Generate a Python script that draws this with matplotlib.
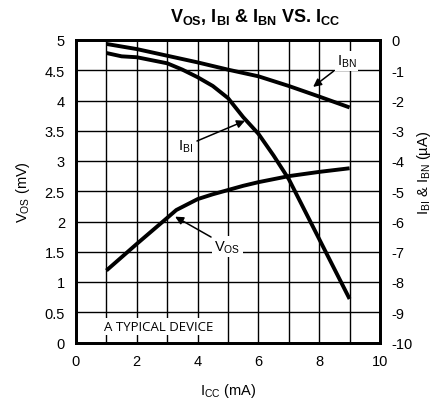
import matplotlib
matplotlib.use("Agg")
import matplotlib.pyplot as plt

plt.rcParams['font.family'] = ['Liberation Sans', 'DejaVu Sans']
plt.rcParams['mathtext.default'] = 'regular'

icc = [1, 2, 3, 3.3, 4, 4.5, 5, 5.5, 6, 6.5, 7, 8, 9]
vos = [1.19, 1.63, 2.06, 2.19, 2.37, 2.45, 2.52, 2.59, 2.65, 2.70, 2.75, 2.82, 2.88]
icc_bi = [1, 1.5, 2, 3, 3.5, 4, 4.5, 5, 5.5, 6, 6.5, 7, 8, 9]
ibi = [-0.43, -0.54, -0.57, -0.77, -0.98, -1.23, -1.52, -1.92, -2.55, -3.10, -3.82, -4.60, -6.58, -8.56]
icc_bn = [1, 2, 3, 4, 5, 6, 7, 8, 9]
ibn = [-0.13, -0.30, -0.52, -0.74, -0.98, -1.20, -1.52, -1.87, -2.23]

xticks = [0, 2, 4, 6, 8, 10]
yticks_left = [0, 0.5, 1, 1.5, 2, 2.5, 3, 3.5, 4, 4.5, 5]
yticks_right = [0, -1, -2, -3, -4, -5, -6, -7, -8, -9, -10]

W, H = 433, 406
fig = plt.figure(figsize=(W / 100, H / 100), dpi=100)
ax = fig.add_axes([76 / W, 1 - 343.5 / H, 304 / W, 302.5 / H])
ax2 = ax.twinx()

ax.set_xlim(0, 10)
ax.set_ylim(0, 5)
ax2.set_ylim(-10, 0)

ax.set_xticks(range(0, 11))
ax.set_xticklabels([str(t) if t in xticks else '' for t in range(0, 11)])
ax.set_yticks(yticks_left)
ax.set_yticklabels([('%g' % v) for v in yticks_left])
ax2.set_yticks(yticks_right)
ax2.set_yticklabels([('%g' % v) for v in yticks_right])

ax.grid(True, color='black', linewidth=1.0)
ax.set_axisbelow(True)
for a in (ax, ax2):
    a.tick_params(length=0, labelsize=10.5, pad=8)
    for s in a.spines.values():
        s.set_linewidth(2)

ax.plot(icc, vos, color='black', linewidth=2.8, solid_capstyle='butt', solid_joinstyle='round')
ax2.plot(icc_bi, ibi, color='black', linewidth=2.8, solid_capstyle='butt', solid_joinstyle='round')
ax2.plot(icc_bn, ibn, color='black', linewidth=2.8, solid_capstyle='butt', solid_joinstyle='round')

ax.set_xlabel('I$_{CC}$ (mA)', fontsize=10.5, labelpad=10)
ax.set_ylabel('V$_{OS}$ (mV)', fontsize=10.5, labelpad=9)
fig.text(424 / W, 1 - 173 / H, 'I$_{BI}$ & I$_{BN}$ (µA)',
         rotation=90, ha='center', va='center', fontsize=10.5)

fig.text(255 / W, 1 - 17 / H,
         'V$_{OS}$, I$_{BI}$ & I$_{BN}$ VS. I$_{CC}$',
         ha='center', va='center', fontsize=13, fontweight='bold')

arrow = dict(arrowstyle='-|>', color='black', lw=1.1, mutation_scale=12, shrinkA=1, shrinkB=0)
box = dict(facecolor='white', edgecolor='none', pad=1.5)

# IBN annotation (right axis)
ax2.annotate('I$_{BN}$', xy=(7.8, -1.55), xytext=(8.9, -0.7),
             ha='center', va='center', fontsize=10.5, bbox=box, arrowprops=arrow)
# IBI annotation (right axis)
ax2.annotate('I$_{BI}$', xy=(5.56, -2.67), xytext=(3.6, -3.5),
             ha='center', va='center', fontsize=10.5, arrowprops=arrow)
# VOS annotation (left axis)
ax.annotate('V$_{OS}$', xy=(3.26, 2.08), xytext=(4.98, 1.59),
            ha='center', va='center', fontsize=10.5, bbox=box, arrowprops=arrow)

ax.text(2.71, 0.26, 'A TYPICAL DEVICE', ha='center', va='center', fontsize=9.5,
        family=['Open Sans', 'DejaVu Sans'],
        bbox=dict(facecolor='white', edgecolor='none', pad=1.5))

fig.savefig('out.png', dpi=100)
